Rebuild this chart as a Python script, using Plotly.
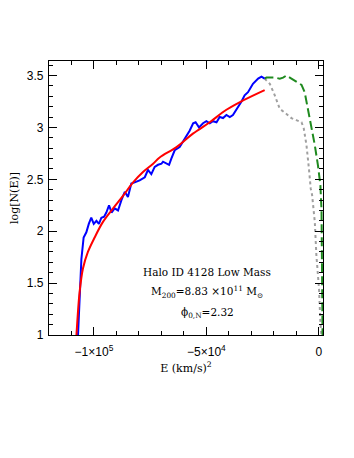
import plotly.graph_objects as go

# ---- data ----
blue_E = [-107300, -107100, -106400, -105600, -104600, -103400, -102300, -101200, -100100, -98900,
          -97800, -96700, -95500, -94500, -93300, -92200, -90800, -89300, -87800, -86300,
          -84900, -83400, -81900, -79700, -77400, -76000, -74500, -73000, -71500, -70000,
          -69300, -67800, -66600, -65600, -64100, -61900, -60400, -58900, -57400, -55900,
          -54800, -53300, -51500, -50000, -48500, -47100, -45500, -44100, -42600, -41100,
          -39600, -38200, -36400, -34400, -33000, -31500, -29300, -27000, -25500, -24100]
blue_N = [0.90, 1.00, 1.41, 1.73, 1.94, 1.99, 2.07, 2.13, 2.07, 2.10,
          2.07, 2.13, 2.14, 2.18, 2.25, 2.18, 2.22, 2.20, 2.30, 2.38,
          2.33, 2.46, 2.47, 2.49, 2.52, 2.59, 2.55, 2.62, 2.64, 2.65,
          2.67, 2.65, 2.64, 2.70, 2.78, 2.81, 2.86, 2.91, 2.97, 3.04,
          3.05, 3.00, 3.04, 3.06, 3.04, 3.06, 3.05, 3.10, 3.09, 3.12,
          3.10, 3.12, 3.18, 3.25, 3.31, 3.34, 3.42, 3.47, 3.49, 3.47]

red_E = [-108100, -107800, -106400, -104900, -102700, -99700, -96000, -91500, -87100, -82600,
         -78200, -73700, -70800, -63300, -56000, -48500, -41100, -33700, -24100]
red_N = [0.90, 1.00, 1.41, 1.64, 1.80, 1.94, 2.09, 2.22, 2.34, 2.47,
         2.57, 2.65, 2.71, 2.81, 2.94, 3.05, 3.17, 3.26, 3.36]

green_E = [-24100, -23300, -19600, -17400, -15900, -14400, -12200, -10000, -7700, -6300,
           -4800, -3300, -1800, -360, 700, 1200, 1400, 1500, 1600, 1700]
green_N = [3.47, 3.48, 3.48, 3.47, 3.48, 3.50, 3.47, 3.44, 3.41, 3.34,
           3.18, 3.02, 2.83, 2.63, 2.44, 2.20, 1.90, 1.60, 1.30, 0.90]

gray_E = [-24100, -21800, -19600, -17400, -14400, -12200, -10000, -7700, -6700, -5500,
          -4400, -3600, -3000, -1800, -1100, 100, 700, 1150, 1300]
gray_N = [3.47, 3.42, 3.31, 3.18, 3.13, 3.09, 3.07, 3.05, 2.99, 2.83,
          2.60, 2.41, 2.35, 2.09, 1.77, 1.44, 1.12, 1.03, 0.95]

x_tickvals = [-100000, -50000, 0]
x_ticktext = ["\u22121\u00d710<sup>5</sup>", "\u22125\u00d710<sup>4</sup>", "0"]
y_tickvals = [1, 1.5, 2, 2.5, 3, 3.5]
y_ticktext = ["1", "1.5", "2", "2.5", "3", "3.5"]

fig = go.Figure()
fig.add_trace(go.Scatter(x=gray_E, y=gray_N, mode="lines",
                         line=dict(color="#a0a0a0", width=2, dash="3px,3px")))
fig.add_trace(go.Scatter(x=green_E, y=green_N, mode="lines",
                         line=dict(color="#1f8a1f", width=2, dash="9px,4px")))
fig.add_trace(go.Scatter(x=blue_E, y=blue_N, mode="lines",
                         line=dict(color="#0000ff", width=2)))
fig.add_trace(go.Scatter(x=red_E, y=red_N, mode="lines", line_shape="spline",
                         line=dict(color="#ff0000", width=2)))

axis_common = dict(showline=True, linecolor="black", linewidth=1.3, mirror="allticks",
                   ticks="inside", ticklen=8, tickwidth=1, tickcolor="black",
                   showgrid=False, zeroline=False, automargin=False,
                   tickfont=dict(family="Liberation Sans", size=12, color="black"))

fig.update_xaxes(range=[-120000, 1850], tickmode="array", tickvals=x_tickvals,
                 ticktext=x_ticktext, ticklabelstandoff=5,
                 minor=dict(ticks="inside", ticklen=4, tickcolor="black", dtick=10000, tick0=0,
                            showgrid=False),
                 title=dict(text="E (km/s)<sup>2</sup>", standoff=6,
                            font=dict(family="DejaVu Serif", size=11, color="black")),
                 **axis_common)
fig.update_yaxes(range=[1, 3.64], tickmode="array", tickvals=y_tickvals,
                 ticktext=y_ticktext, ticklabelstandoff=2,
                 minor=dict(ticks="inside", ticklen=4, tickcolor="black", dtick=0.1, tick0=0,
                            showgrid=False),
                 title=dict(text="log[N(E)]", standoff=6,
                            font=dict(family="DejaVu Serif", size=11, color="black")),
                 **axis_common)

ann_font = dict(family="DejaVu Serif", size=10.5, color="black")
fig.add_annotation(x=0.578, y=0.202, xref="paper", yref="paper", showarrow=False,
                   text="Halo ID 4128 Low Mass", font=ann_font)
fig.add_annotation(x=0.578, y=0.122, xref="paper", yref="paper", showarrow=False,
                   text="M<sub>200</sub>=8.83 \u00d710<sup>11</sup> M<sub>\u2299</sub>", font=ann_font)
fig.add_annotation(x=0.578, y=0.046, xref="paper", yref="paper", showarrow=False,
                   text="\u03d5<sub>0,N</sub>=2.32", font=ann_font)

fig.update_layout(width=354, height=458, showlegend=False,
                  margin=dict(l=41, r=39, t=53, b=130.5),
                  paper_bgcolor="white", plot_bgcolor="white")

fig.write_html("out.html")
